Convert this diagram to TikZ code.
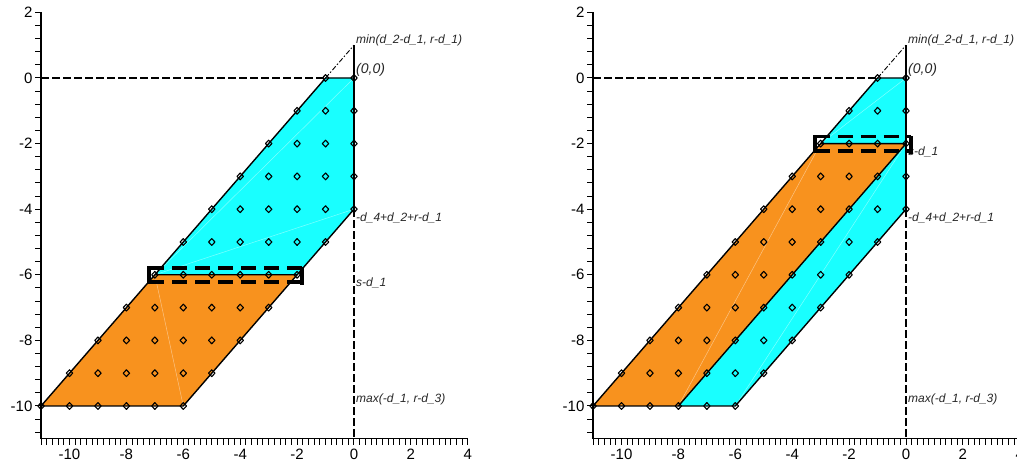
\documentclass[tikz,border=0pt]{standalone}
\usepackage{fontspec}
\setmainfont{Liberation Sans}
\definecolor{cy}{RGB}{25,255,255}
\definecolor{orr}{RGB}{248,146,30}
\tikzset{
  axisline/.style={line width=1.4pt},
  tickline/.style={line width=1pt},
  edgeline/.style={line width=1.4pt, line join=round},
  guideline/.style={line width=2pt, dash pattern=on 8pt off 3pt},
  dashdotline/.style={line width=0.9pt, dash pattern=on 5pt off 2pt on 1.5pt off 2pt},
  bracketline/.style={line width=3.5pt, dash pattern=on 15pt off 8pt},
  bracketside/.style={line width=3.5pt, line cap=rect},
  faintline/.style={white, opacity=0.45, line width=0.5pt},
  dmd/.style={line width=1.1pt, line join=round},
  lbl/.style={font=\itshape\fontsize{12}{14}\selectfont, text=black!85, inner sep=0pt, anchor=base west},
  biglbl/.style={font=\itshape\fontsize{14}{16}\selectfont, text=black!85, inner sep=0pt, anchor=base west},
  ticklbl/.style={font=\fontsize{15}{17}\selectfont, inner sep=0pt}
}
\newcommand\axesguides{%
  \draw[axisline] (-11,2) -- (-11,-11) -- (4,-11);
  \foreach \i in {0,...,32}{\pgfmathsetmacro\yy{2-0.4*\i}\draw[tickline] (-11,\yy) -- ++(-6pt,0);}
  \foreach \i in {0,...,75}{\pgfmathsetmacro\xx{-11+0.2*\i}\draw[tickline] (\xx,-11) -- ++(0,-6pt);}
  \foreach \v in {2,0,-2,-4,-6,-8,-10}{\node[ticklbl,anchor=east] (yl\v) at ([xshift=-8.5pt]-11,\v) {\v};}
  \foreach \v in {-10,-8,-6,-4,-2,0,2,4}{\node[ticklbl,anchor=base] (xl\v) at ([yshift=-21pt]\v,-11) {\v};}
  \draw[guideline] (-11,0) -- (-1,0);
  \draw[guideline] (0,-4) -- (0,-11);
  \draw[dashdotline] (-1,0) -- (0,1);
  \draw[line width=2.2pt] (0,1) -- (0,-4);
}
\newcommand\latticepts{%
  \foreach \y in {0,...,-10}{%
    \pgfmathtruncatemacro\xa{max(-11,\y-1)}%
    \pgfmathtruncatemacro\xb{min(0,\y+4)}%
    \foreach \x in {\xa,...,\xb}{%
      \draw[dmd] (\x,\y) +(3.2pt,0) -- +(0,3.4pt) -- +(-3.2pt,0) -- +(0,-3.4pt) -- cycle;}}%
}
\newcommand\panellabels[1]{%
  \node[lbl] (lmin) at ([xshift=2pt,yshift=2pt]0,1) {min(d\_2-d\_1, r-d\_1)};
  \node[biglbl] (lorig) at ([xshift=2pt,yshift=4pt]0,0) {(0,0)};
  \node[lbl] (ld4) at ([xshift=2pt,yshift=-12.5pt]0,-4) {-d\_4+d\_2+r-d\_1};
  \node[lbl] (ls) at ([xshift=2pt,yshift=-12pt]0,#1) {s-d\_1};
  \node[lbl] (lmax) at ([xshift=2pt,yshift=3pt]0,-10) {max(-d\_1, r-d\_3)};
}
\newcommand\bracketbox[3]{%
  \draw[bracketline] (#1-0.2,#3+0.21) -- (#2+0.18,#3+0.21);
  \draw[bracketline] (#1-0.2,#3-0.22) -- (#2+0.18,#3-0.22);
  \draw[bracketside] (#1-0.2,#3+0.21) -- (#1-0.2,#3-0.22);
  \draw[bracketside] (#2+0.18,#3+0.18) -- (#2+0.18,#3-0.25);
}
\begin{document}
\begin{tikzpicture}[x=1pt,y=1pt]
\useasboundingbox (0,0) rectangle (1017,463);
\clip (0,0) rectangle (1017,463);
% ---------------- left panel ----------------
\begin{scope}[shift={(354pt,385pt)},x=28.45pt,y=32.8pt]
  \fill[cy] (-1,0) -- (0,0) -- (0,-4) -- (-2,-6) -- (-7,-6) -- cycle;
  \fill[orr] (-7,-6) -- (-2,-6) -- (-6,-10) -- (-11,-10) -- cycle;
  \draw[faintline] (0,0) -- (-7,-6);
  \draw[faintline] (0,-4) -- (-7,-6);
  \draw[faintline] (-7,-6) -- (-6,-10);
  \axesguides
  \draw[edgeline] (-1,0) -- (0,0) -- (0,-4) -- (-2,-6) -- (-7,-6) -- cycle;
  \draw[edgeline] (-2,-6) -- (-6,-10) -- (-11,-10) -- (-7,-6);
  \latticepts
  \panellabels{-6}
  \bracketbox{-7}{-2}{-6}
\end{scope}
% ---------------- right panel ----------------
\begin{scope}[shift={(906pt,385pt)},x=28.45pt,y=32.8pt]
  \fill[cy] (-1,0) -- (0,0) -- (0,-4) -- (-6,-10) -- (-11,-10) -- cycle;
  \fill[orr] (-3,-2) -- (0,-2) -- (-8,-10) -- (-11,-10) -- cycle;
  \draw[faintline] (0,0) -- (-3,-2);
  \draw[faintline] (-3,-2) -- (-8,-10);
  \draw[faintline] (0,-2) -- (-6,-10);
  \axesguides
  \draw[edgeline] (-1,0) -- (0,0) -- (0,-4) -- (-6,-10) -- (-11,-10) -- cycle;
  \draw[edgeline] (-3,-2) -- (0,-2) -- (-8,-10);
  \latticepts
  \panellabels{-2}
  \bracketbox{-3}{0}{-2}
\end{scope}
\end{tikzpicture}
\end{document}
